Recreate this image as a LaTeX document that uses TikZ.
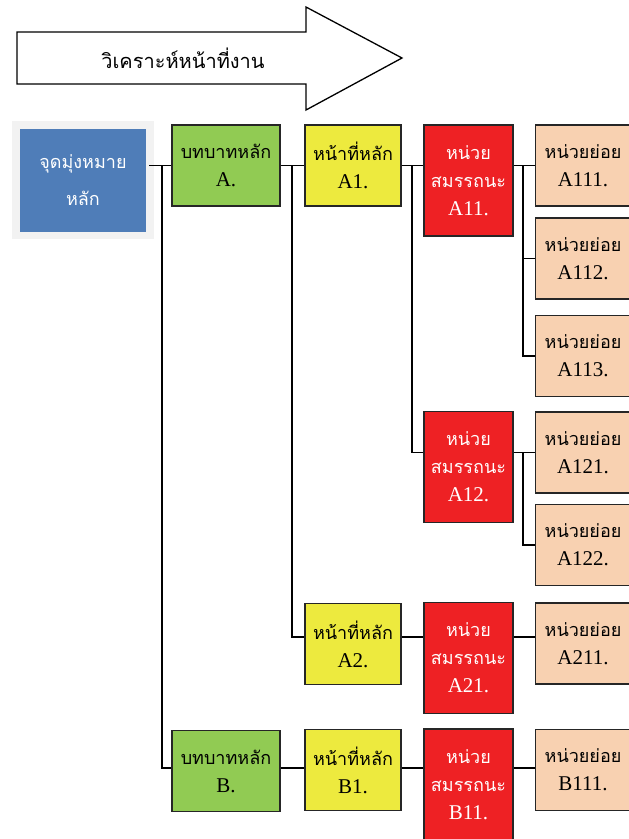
\documentclass[tikz,border=0pt]{standalone}
\usepackage{fontspec}
\setmainfont{Liberation Serif}
\newfontfamily\thaifont[Script=Thai]{Loma}
\newcommand\thx{\thaifont\fontsize{18pt}{28pt}\selectfont}
\definecolor{goalblue}{HTML}{4F7DB8}
\definecolor{goalframe}{HTML}{F2F2F2}
\definecolor{rolegreen}{HTML}{91CB53}
\definecolor{dutyyellow}{HTML}{EDEA3E}
\definecolor{unitred}{HTML}{EE2124}
\definecolor{subpeach}{HTML}{F8D1B1}
\tikzset{
  base/.style={draw=black!85, line width=1.3pt, inner sep=0pt, align=center, anchor=center,
    font=\fontsize{21pt}{28pt}\selectfont},
  rolebox/.style={base, fill=rolegreen, minimum width=108pt, minimum height=81pt},
  dutybox/.style={base, fill=dutyyellow, minimum width=96pt, minimum height=81pt},
  unitbox/.style={base, fill=unitred, text=white, minimum width=89pt, minimum height=111pt},
  subbox/.style={base, fill=subpeach, minimum width=95pt, minimum height=81pt},
  link/.style={draw=black, line width=1.3pt},
}
\begin{document}
\begin{tikzpicture}[x=1pt,y=-1pt]
\useasboundingbox (0,0) rectangle (629,839);
% title arrow
\draw[line width=1.3pt, fill=white] (17,32) -- (306,32) -- (306,7) -- (402,58) -- (306,110) -- (306,84) -- (17,84) -- cycle;
\node[inner sep=0pt] (title) at (183,58) {\thaifont\fontsize{20pt}{24pt}\selectfont วิเคราะห์หน้าที่งาน};
% goal
\node[fill=goalframe, minimum width=142pt, minimum height=118pt, inner sep=0pt] (frame) at (83,180) {};
\node[fill=goalblue, text=white, minimum width=126pt, minimum height=103pt, inner sep=0pt, align=center,
  font=\thaifont\fontsize{18pt}{37pt}\selectfont] (goal) at (83,180.5) {จุดมุ่งหมาย\\หลัก};
% roles
\node[rolebox] (gA) at (226,165.5) {{\thx บทบาทหลัก}\\A.};
\node[rolebox] (gB) at (226,771) {{\thx บทบาทหลัก}\\B.};
% duties
\node[dutybox] (yA1) at (353,165.5) {{\thx หน้าที่หลัก}\\A1.};
\node[dutybox] (yA2) at (353,644) {{\thx หน้าที่หลัก}\\A2.};
\node[dutybox] (yB1) at (353,770) {{\thx หน้าที่หลัก}\\B1.};
% competency units
\node[unitbox] (rA11) at (468.5,180.5) {{\thx หน่วย}\\{\thx สมรรถนะ}\\A11.};
\node[unitbox] (rA12) at (468.5,467) {{\thx หน่วย}\\{\thx สมรรถนะ}\\A12.};
\node[unitbox] (rA21) at (468.5,658) {{\thx หน่วย}\\{\thx สมรรถนะ}\\A21.};
\node[unitbox] (rB11) at (468.5,784.5) {{\thx หน่วย}\\{\thx สมรรถนะ}\\B11.};
% sub units
\node[subbox] (pA111) at (583,165.5) {{\thx หน่วยย่อย}\\A111.};
\node[subbox] (pA112) at (583,258.5) {{\thx หน่วยย่อย}\\A112.};
\node[subbox] (pA113) at (583,356) {{\thx หน่วยย่อย}\\A113.};
\node[subbox] (pA121) at (583,452.5) {{\thx หน่วยย่อย}\\A121.};
\node[subbox] (pA122) at (583,545) {{\thx หน่วยย่อย}\\A122.};
\node[subbox] (pA211) at (583,643.5) {{\thx หน่วยย่อย}\\A211.};
\node[subbox] (pB111) at (583,770) {{\thx หน่วยย่อย}\\B111.};
% connectors
\coordinate (s0) at ([xshift=3pt]goal.east |- gA.west);
\coordinate (v0) at (162,165.5);
\coordinate (v1) at (292,165.5);
\coordinate (v2) at (412,165.5);
\coordinate (v3) at (523,165.5);
\coordinate (v4) at (523,452.5);
\draw[link] (s0) -- (gA.west);
\draw[link] (v0) |- ([yshift=3pt]gB.west);
\draw[link] (gA.east) -- (yA1.west);
\draw[link] (v1) |- ([yshift=7pt]yA2.west);
\draw[link] (yA1.east) -- (yA1.east -| rA11.west);
\draw[link] (v2) |- (rA12.west |- pA121.west);
\draw[link] (rA11.east |- pA111.west) -- (pA111.west);
\draw[link] (v3) |- (pA112.west);
\draw[link] (v3) |- (pA113.west);
\draw[link] (rA12.east |- pA121.west) -- (pA121.west);
\draw[link] (v4) |- (pA122.west);
\draw[link] ([yshift=7pt]yA2.east) -- ([yshift=7pt]yA2.east -| rA21.west);
\draw[link] ([yshift=6.5pt]pA211.west -| rA21.east) -- ([yshift=6.5pt]pA211.west);
\draw[link] ([yshift=3pt]gB.east) -- ([yshift=3pt]gB.east -| yB1.west);
\draw[link] ([yshift=2pt]yB1.east) -- ([yshift=2pt]yB1.east -| rB11.west);
\draw[link] ([yshift=2pt]pB111.west -| rB11.east) -- ([yshift=2pt]pB111.west);
\end{tikzpicture}
\end{document}
